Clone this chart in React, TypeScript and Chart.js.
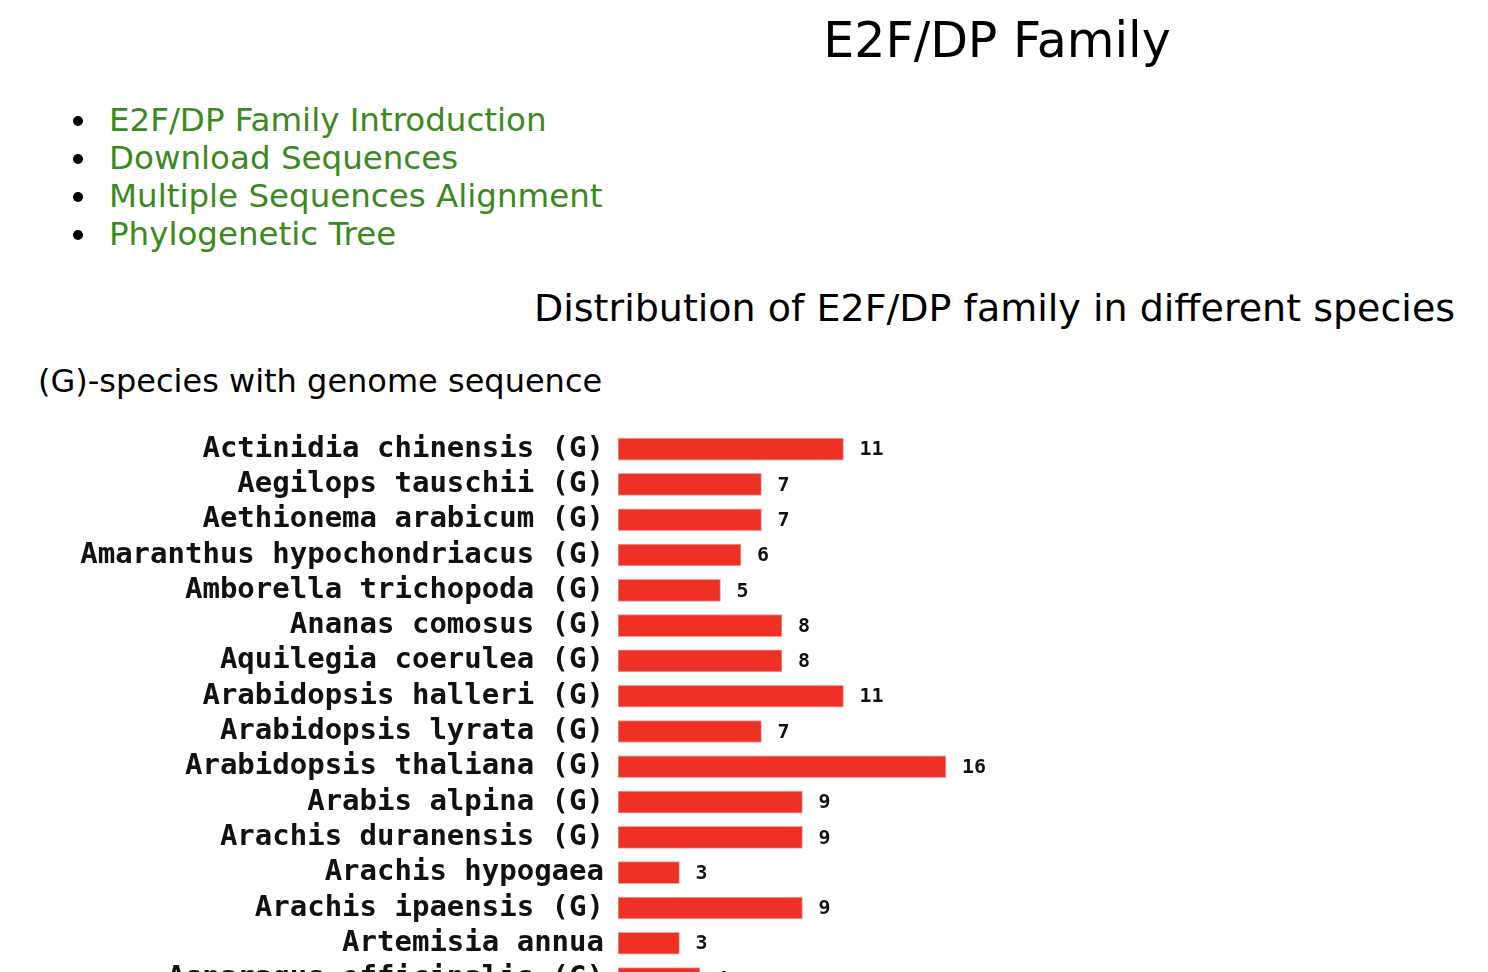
import { useEffect, useRef } from 'react';
import { Chart, registerables } from 'chart.js';

Chart.register(...registerables);

const species = [
  'Actinidia chinensis (G)',
  'Aegilops tauschii (G)',
  'Aethionema arabicum (G)',
  'Amaranthus hypochondriacus (G)',
  'Amborella trichopoda (G)',
  'Ananas comosus (G)',
  'Aquilegia coerulea (G)',
  'Arabidopsis halleri (G)',
  'Arabidopsis lyrata (G)',
  'Arabidopsis thaliana (G)',
  'Arabis alpina (G)',
  'Arachis duranensis (G)',
  'Arachis hypogaea',
  'Arachis ipaensis (G)',
  'Artemisia annua',
  'Asparagus officinalis (G)',
  'Auxenochlorella protothecoides (G)',
];

const counts = [11, 7, 7, 6, 5, 8, 8, 11, 7, 16, 9, 9, 3, 9, 3, 4, 2];

const links = [
  'E2F/DP Family Introduction',
  'Download Sequences',
  'Multiple Sequences Alignment',
  'Phylogenetic Tree',
];

const AXIS_W = 618;
const UNIT = 20.5;
const ROW = 36;

export default function App() {
  const canvasRef = useRef<HTMLCanvasElement>(null);

  useEffect(() => {
    if (!canvasRef.current) return;
    const valueLabels = {
      id: 'valueLabels',
      afterDatasetsDraw(chart: Chart) {
        const ctx = chart.ctx;
        const meta = chart.getDatasetMeta(0);
        ctx.save();
        ctx.font = 'bold 20px "DejaVu Sans Mono"';
        ctx.fillStyle = '#111';
        ctx.textBaseline = 'middle';
        meta.data.forEach((bar: any, i: number) => {
          ctx.fillText(String(counts[i]), bar.x + 16, bar.y + 1);
        });
        ctx.restore();
      },
    };
    const chart = new Chart(canvasRef.current, {
      type: 'bar',
      data: {
        labels: species,
        datasets: [
          {
            data: counts,
            backgroundColor: '#ee3124',
            borderColor: '#f4a0a0',
            borderWidth: 1,
            borderSkipped: false,
            barThickness: 22,
          },
        ],
      },
      options: {
        indexAxis: 'y',
        animation: false,
        responsive: true,
        maintainAspectRatio: false,
        layout: { padding: 0 },
        plugins: { legend: { display: false }, tooltip: { enabled: false } },
        scales: {
          x: {
            display: false,
            min: 0,
            max: (1488 - AXIS_W) / UNIT,
          },
          y: {
            afterFit: (axis: any) => {
              axis.width = AXIS_W;
            },
            grid: { display: false },
            border: { display: false },
            ticks: {
              color: '#111',
              padding: 6,
              autoSkip: false,
              font: { family: '"DejaVu Sans Mono"', size: 29, weight: 'bold', lineHeight: 1 },
            },
          },
        },
      },
      plugins: [valueLabels],
    });
    return () => chart.destroy();
  }, []);

  const sans = '"DejaVu Sans", Verdana, sans-serif';

  return (
    <div style={{ position: 'relative', width: 1488, height: 1100, fontFamily: sans, margin: -8 }}>
      <div style={{ position: 'absolute', left: 0, width: 1994, top: 14, textAlign: 'center', fontSize: 49, lineHeight: '54px' }}>
        E2F/DP Family
      </div>
      {links.map((l, i) => (
        <div key={l} style={{ position: 'absolute', left: 109, top: 101 + i * 38, fontSize: 32.5, lineHeight: '38px', color: '#3a8a1e', whiteSpace: 'nowrap' }}>
          <span style={{ position: 'absolute', left: -36, top: 15, width: 10, height: 10, borderRadius: 5, background: '#000' }} />
          {l}
        </div>
      ))}
      <div style={{ position: 'absolute', left: 534, top: 286, fontSize: 38, lineHeight: '44px', whiteSpace: 'nowrap' }}>
        Distribution of E2F/DP family in different species
      </div>
      <div style={{ position: 'absolute', left: 38, top: 362, fontSize: 32, lineHeight: '38px', whiteSpace: 'nowrap' }}>
        (G)-species with genome sequence
      </div>
      <div style={{ position: 'absolute', left: 0, top: 425 - 14.5, width: 1488, height: species.length * ROW + 29 }}>
        <canvas ref={canvasRef} />
      </div>
    </div>
  );
}
